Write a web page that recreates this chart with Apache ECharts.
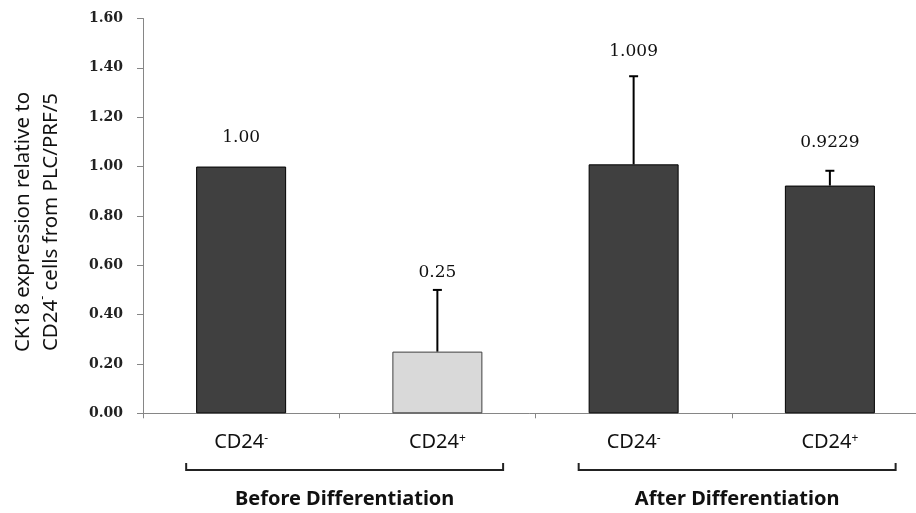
<!DOCTYPE html>
<html>
<head>
<meta charset="utf-8">
<script src="https://cdn.jsdelivr.net/npm/echarts@6/dist/echarts.min.js"></script>
<style>
html, body { margin: 0; padding: 0; background: #fff; }
#chart { width: 916px; height: 513px; }
</style>
</head>
<body>
<div id="chart"></div>
<script>
// data
var categories = ['CD24-', 'CD24+', 'CD24-', 'CD24+'];
var values = [1.00, 0.25, 1.009, 0.9229];
var errors = [0, 0.25, 0.357, 0.06];          // upper error bars
var valueLabels = ['1.00', '0.25', '1.009', '0.9229'];
var groups = ['Before Differentiation', 'After Differentiation'];
var groupMembers = [[0, 1], [2, 3]];
var yMin = 0, yMax = 1.6, yStep = 0.2;

// styles
var barColors = ['#404040', '#d9d9d9', '#404040', '#404040'];
var labelLift = [29, 17, 25, 28];   // how far each value label sits above its bar / whisker

var chart = echarts.init(document.getElementById('chart'));

var barData = values.map(function (v, i) {
    return {
        value: v,
        itemStyle: { color: barColors[i], borderColor: i === 1 ? '#404040' : '#000', borderWidth: 1 }
    };
});
var errData = values.map(function (v, i) { return [i, v, errors[i]]; });

option = {
    animation: false,
    grid: { left: 143, width: 785, top: 18.5, height: 394.8, outerBoundsMode: 'none', containLabel: false },
    xAxis: {
        type: 'category',
        data: categories,
        axisLine: { lineStyle: { color: '#868686', width: 1 } },
        axisTick: { show: true, length: 5, lineStyle: { color: '#868686' } },
        axisLabel: {
            margin: 19,
            formatter: function (v) {
                return '{n|' + v.slice(0, 4) + '}{s|' + v.slice(4) + '}';
            },
            rich: {
                n: { fontFamily: 'Noto Sans', fontSize: 20, color: '#111' },
                s: { fontFamily: 'Noto Sans', fontSize: 12, color: '#111', verticalAlign: 'top', padding: [0, 0, 8, 0] }
            }
        }
    },
    yAxis: {
        type: 'value',
        min: yMin,
        max: yMax,
        interval: yStep,
        splitLine: { show: false },
        axisLine: { show: true, lineStyle: { color: '#868686', width: 1 } },
        axisTick: { show: true, length: 6, inside: false, lineStyle: { color: '#868686' } },
        axisLabel: {
            margin: 20,
            fontFamily: 'DejaVu Serif',
            fontWeight: 'bold',
            fontSize: 14,
            color: '#222',
            formatter: function (v) { return v.toFixed(2); }
        }
    },
    series: [
        {
            name: 'CK18',
            type: 'bar',
            data: barData,
            barWidth: 90
        },
        {
            name: 'error',
            type: 'custom',
            z: 5,
            data: errData,
            encode: { x: 0, y: 1 },
            renderItem: function (params, api) {
                var i = params.dataIndex;
                var val = api.value(1), err = api.value(2);
                var base = api.coord([i, val]);
                var top = api.coord([i, val + err]);
                var kids = [];
                if (err > 0) {
                    kids.push({ type: 'line', shape: { x1: top[0], y1: base[1], x2: top[0], y2: top[1] },
                        style: { stroke: '#000', lineWidth: 2 } });
                    kids.push({ type: 'line', shape: { x1: top[0] - 4.5, y1: top[1], x2: top[0] + 4.5, y2: top[1] },
                        style: { stroke: '#000', lineWidth: 2 } });
                }
                kids.push({
                    type: 'text',
                    x: top[0], y: top[1] - labelLift[i],
                    style: {
                        text: valueLabels[i], fill: '#111',
                        font: '17px "DejaVu Serif"',
                        textAlign: 'center', textVerticalAlign: 'middle'
                    }
                });
                return { type: 'group', children: kids };
            }
        }
    ],
    graphic: [
        {
            type: 'text',
            x: 37, y: 222,
            rotation: Math.PI / 2,
            style: {
                text: '{n|CK18 expression relative to}\n{n|CD24}{s|-}{n| cells from PLC/PRF/5}',
                fill: '#111',
                align: 'center',
                verticalAlign: 'middle',
                rich: {
                    n: { fontFamily: 'Noto Sans', fontSize: 20.5, color: '#111', lineHeight: 28 },
                    s: { fontFamily: 'Noto Sans', fontSize: 12, color: '#111', verticalAlign: 'top', padding: [0, 0, 8, 0] }
                }
            }
        }
    ]
};
chart.setOption(option);

// brackets and group names under the categories
var bw = chart.convertToPixel({ xAxisIndex: 0 }, 1) - chart.convertToPixel({ xAxisIndex: 0 }, 0);
var extra = [];
groupMembers.forEach(function (m, g) {
    var x0 = chart.convertToPixel({ xAxisIndex: 0 }, m[0]) - 0.28 * bw;
    var x1 = chart.convertToPixel({ xAxisIndex: 0 }, m[1]) + 0.335 * bw;
    extra.push({
        type: 'polyline',
        shape: { points: [[x0, 463], [x0, 470], [x1, 470], [x1, 463]] },
        style: { stroke: '#222', lineWidth: 2, fill: null }
    });
    extra.push({
        type: 'text',
        x: (x0 + x1) / 2, y: 499,
        style: {
            text: groups[g], font: 'bold 20px "Noto Sans"', fill: '#111',
            textAlign: 'center', textVerticalAlign: 'middle'
        }
    });
});
chart.setOption({ graphic: option.graphic.concat(extra) });
</script>
</body>
</html>
